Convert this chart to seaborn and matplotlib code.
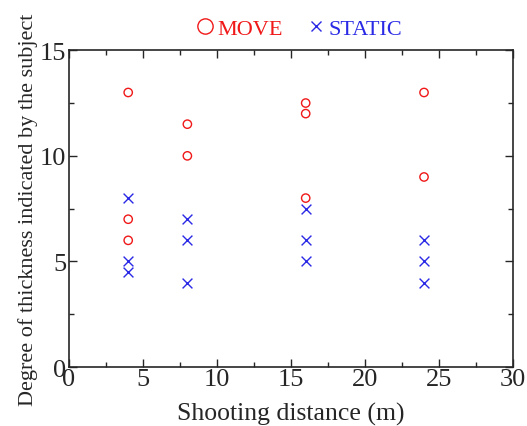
import pandas as pd
import matplotlib
matplotlib.use('Agg')
import matplotlib.pyplot as plt
from matplotlib.lines import Line2D
from matplotlib.ticker import MultipleLocator
import seaborn as sns

# --- data ---
move_x = [4, 4, 4, 8, 8, 16, 16, 16, 24, 24]
move_y = [13, 7, 6, 11.5, 10, 12.5, 12, 8, 13, 9]
static_x = [4, 4, 4, 8, 8, 8, 16, 16, 16, 24, 24, 24]
static_y = [8, 5, 4.5, 7, 6, 4, 7.5, 6, 5, 6, 5, 4]
x_ticks = [0, 5, 10, 15, 20, 25, 30]
y_ticks = [0, 5, 10, 15]

df_move = pd.DataFrame({'distance': move_x, 'degree': move_y})
df_static = pd.DataFrame({'distance': static_x, 'degree': static_y})

RED = '#f01818'
BLUE = '#2a2ae6'

sns.set_style('ticks')
plt.rcParams['font.family'] = ['Liberation Serif', 'DejaVu Serif']

fig = plt.figure(figsize=(5.27, 4.27), dpi=100)
ax = fig.add_axes([0.131, 0.138, 0.842, 0.742])

# MOVE: open circles
sns.scatterplot(data=df_move, x='distance', y='degree', ax=ax, marker='o',
                s=36, facecolors='none', edgecolors=RED, linewidth=1.0)
# STATIC: crosses
sns.scatterplot(data=df_static, x='distance', y='degree', ax=ax, marker='x',
                s=50, color=BLUE, linewidth=1.0)

ax.set_xlim(0, 30)
ax.set_ylim(0, 15)
ax.set_xticks(x_ticks)
ax.set_yticks(y_ticks)
ax.xaxis.set_minor_locator(MultipleLocator(2.5))
ax.yaxis.set_minor_locator(MultipleLocator(2.5))
ax.tick_params(which='both', direction='in', top=True, right=True, width=1.0)
ax.tick_params(which='major', length=6, labelsize=19)
ax.tick_params(axis='x', which='major', pad=1)
ax.tick_params(axis='y', which='major', pad=2)
ax.tick_params(which='minor', length=3.5)
for sp in ax.spines.values():
    sp.set_linewidth(1.2)
    sp.set_visible(True)

ax.set_xlabel('Shooting distance (m)', fontsize=18.5, labelpad=8)
ax.set_ylabel('Degree of thickness indicated by the subject', fontsize=16, labelpad=1)

# legend above the plot, coloured text
handles = [Line2D([], [], ls='', marker='o', ms=11, mfc='none', mec=RED, color=RED, mew=1.0),
           Line2D([], [], ls='', marker='x', ms=7, color=BLUE, mew=1.0)]
fig.legend(handles, ['MOVE', 'STATIC'], loc='center', bbox_to_anchor=(0.568, 0.93),
           ncol=2, frameon=False, fontsize=16, labelcolor='linecolor',
           handlelength=0.8, handletextpad=0.15, columnspacing=1.1)

fig.savefig('out.png', dpi=100)
